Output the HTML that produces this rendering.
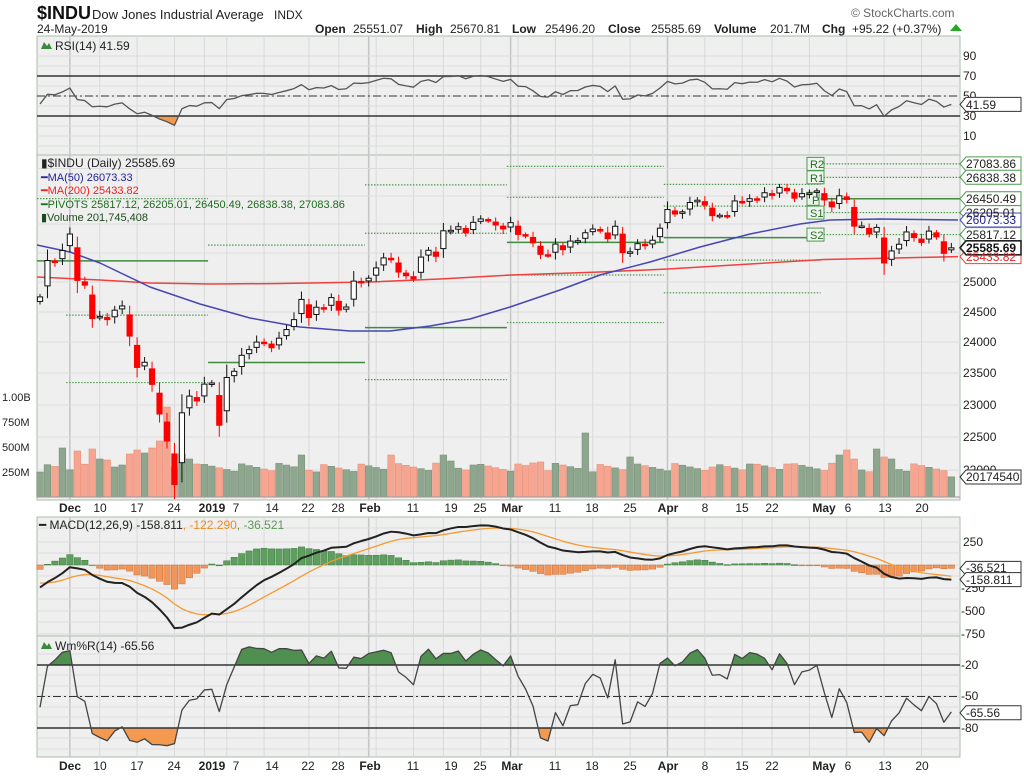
<!DOCTYPE html>
<html><head><meta charset="utf-8"><style>body{margin:0;background:#fff}svg{display:block}text{font-family:"Liberation Sans",sans-serif}</style></head>
<body>
<svg id="s" width="1024" height="776" xmlns="http://www.w3.org/2000/svg">
<defs>
<clipPath id="cRo"><rect x="37" y="116" width="923" height="39"/></clipPath>
<clipPath id="cRg"><rect x="37" y="36" width="923" height="40"/></clipPath>
<clipPath id="cWg"><rect x="37" y="637" width="923" height="28"/></clipPath>
<clipPath id="cWo"><rect x="37" y="728" width="923" height="29"/></clipPath>
</defs>
<rect x="37" y="36" width="923" height="119" fill="#efefef" stroke="#a8bca8"/>
<rect x="37" y="155" width="923" height="345" fill="#efefef" stroke="#a8bca8"/>
<rect x="37" y="517" width="923" height="119" fill="#efefef" stroke="#a8bca8"/>
<rect x="37" y="636" width="923" height="121" fill="#efefef" stroke="#a8bca8"/>
<g id="g"></g>
<text x="37" y="19" font-size="18" font-weight="bold" fill="#111">$INDU</text>
<text x="92" y="19" font-size="13" fill="#222">Dow Jones Industrial Average</text>
<text x="274" y="19" font-size="12" fill="#222">INDX</text>
<text x="37" y="33" font-size="12" fill="#222">24-May-2019</text>
<text x="851" y="17" font-size="12" fill="#666">© StockCharts.com</text>
<g font-size="12" fill="#222">
<text x="315" y="33" font-weight="bold">Open</text><text x="353" y="33">25551.07</text>
<text x="416" y="33" font-weight="bold">High</text><text x="450" y="33">25670.81</text>
<text x="512" y="33" font-weight="bold">Low</text><text x="545" y="33">25496.20</text>
<text x="608" y="33" font-weight="bold">Close</text><text x="651" y="33">25585.69</text>
<text x="714" y="33" font-weight="bold">Volume</text><text x="770" y="33">201.7M</text>
<text x="822" y="33" font-weight="bold">Chg</text><text x="852" y="33">+95.22 (+0.37%)</text>
</g>
<polygon points="950,31 956,24 962,31" fill="#2a2"/>
<polygon points="41,49 44,42 47,46 49,43 52,49" fill="#3a8a3a"/>
<text x="55" y="50" font-size="12" fill="#222">RSI(14) 41.59</text>
<text x="41" y="167" font-size="12" fill="#222">▮$INDU (Daily) 25585.69</text>
<text x="41" y="181" font-size="11" fill="#22229a">━MA(50) 26073.33</text>
<text x="41" y="194" font-size="11" fill="#e22">━MA(200) 25433.82</text>
<text x="41" y="208" font-size="11" fill="#1d6b1d">━PIVOTS 25817.12, 26205.01, 26450.49, 26838.38, 27083.86</text>
<text x="41" y="221" font-size="11" fill="#1d4a1d">▮Volume 201,745,408</text>
<text x="39" y="529" font-size="12" fill="#222">━ MACD(12,26,9) -158.811<tspan fill="#f08a20">, -122.290</tspan><tspan fill="#5a9a5a">, -36.521</tspan></text>
<polygon points="41,649 44,642 47,646 49,643 52,649" fill="#3a8a3a"/>
<text x="55" y="650" font-size="12" fill="#222">Wm%R(14) -65.56</text>
<g font-size="12" fill="#222">
<text x="963" y="60">90</text><text x="963" y="80">70</text><text x="963" y="100">50</text><text x="963" y="120">30</text><text x="963" y="140">10</text>
<text x="963" y="286">25000</text><text x="963" y="316">24500</text><text x="963" y="346">24000</text><text x="963" y="377">23500</text><text x="963" y="409">23000</text><text x="963" y="441">22500</text><text x="963" y="474">22000</text>
<text x="963" y="546">250</text><text x="961" y="592">-250</text><text x="961" y="615">-500</text><text x="961" y="638">-750</text>
<text x="961" y="669">-20</text><text x="961" y="700">-50</text><text x="961" y="732">-80</text>
</g>
<g font-size="11" fill="#222">
<text x="2" y="401">1.00B</text><text x="2" y="426">750M</text><text x="2" y="451">500M</text><text x="2" y="476">250M</text>
</g>
<g id="tg"></g>
<g font-size="12" fill="#222">
<text x="966" y="109">41.59</text>
<text x="966" y="168">27083.86</text>
<text x="966" y="182">26838.38</text>
<text x="966" y="203">26450.49</text>
<text x="966" y="217">26205.01</text>
<text x="966" y="224" fill="#22229a">26073.33</text>
<text x="966" y="239">25817.12</text>
<text x="966" y="261" fill="#e22">25433.82</text>
<text x="966" y="252" font-weight="bold" fill="#111">25585.69</text>
<text x="966" y="481">20174540</text>
<text x="966" y="572">-36.521</text>
<text x="966" y="584">-158.811</text>
<text x="966" y="717">-65.56</text>
</g>
<g font-size="11" fill="#2a6a2a">
<text x="810" y="168">R2</text><text x="810" y="182">R1</text><text x="812" y="204">P</text><text x="810" y="217">S1</text><text x="810" y="239">S2</text>
</g>
<g font-size="12" fill="#222" text-anchor="middle">
<text x="70" y="512" font-weight="bold">Dec</text><text x="100" y="512">10</text><text x="137" y="512">17</text><text x="174" y="512">24</text><text x="212" y="512" font-weight="bold">2019</text><text x="236" y="512">7</text><text x="272" y="512">14</text><text x="308" y="512">22</text><text x="338" y="512">28</text><text x="370" y="512" font-weight="bold">Feb</text><text x="413" y="512">11</text><text x="451" y="512">19</text><text x="480" y="512">25</text><text x="512" y="512" font-weight="bold">Mar</text><text x="555" y="512">11</text><text x="592" y="512">18</text><text x="630" y="512">25</text><text x="668" y="512" font-weight="bold">Apr</text><text x="705" y="512">8</text><text x="742" y="512">15</text><text x="772" y="512">22</text><text x="824" y="512" font-weight="bold">May</text><text x="848" y="512">6</text><text x="885" y="512">13</text><text x="922" y="512">20</text>
</g>
<g font-size="12" fill="#222" text-anchor="middle">
<text x="70" y="770" font-weight="bold">Dec</text><text x="100" y="770">10</text><text x="137" y="770">17</text><text x="174" y="770">24</text><text x="212" y="770" font-weight="bold">2019</text><text x="236" y="770">7</text><text x="272" y="770">14</text><text x="308" y="770">22</text><text x="338" y="770">28</text><text x="370" y="770" font-weight="bold">Feb</text><text x="413" y="770">11</text><text x="451" y="770">19</text><text x="480" y="770">25</text><text x="512" y="770" font-weight="bold">Mar</text><text x="555" y="770">11</text><text x="592" y="770">18</text><text x="630" y="770">25</text><text x="668" y="770" font-weight="bold">Apr</text><text x="705" y="770">8</text><text x="742" y="770">15</text><text x="772" y="770">22</text><text x="824" y="770" font-weight="bold">May</text><text x="848" y="770">6</text><text x="885" y="770">13</text><text x="922" y="770">20</text>
</g>
</svg>
<script>
(function(){
var C=[24748.73,25366.43,25338.84,25538.46,
25826.43,25027.07,24947.67,24388.95,24423.26,24370.24,24527.27,24597.38,24100.51,23592.98,23675.64,23323.66,22859.60,22445.37,21792.20,22878.45,23138.82,23062.40,23327.46,
23346.24,22686.22,23433.16,23531.35,23787.45,23879.12,24001.92,23995.95,23909.84,24065.59,24207.16,24370.10,24706.35,24404.48,24575.62,24553.24,24737.20,24528.22,24579.96,25014.86,24999.67,
25063.89,25239.37,25411.52,25390.30,25169.53,25106.33,25053.11,25425.76,25543.27,25439.39,25883.25,25891.32,25954.44,25850.63,26031.81,26091.95,26057.98,25985.16,25916.00,
26026.32,25819.65,25806.63,25673.46,25473.23,25450.24,25650.88,25554.66,25702.89,25709.94,25848.87,25914.10,25887.38,25745.67,25962.51,25502.32,25516.83,25657.73,25625.59,25717.46,25928.68,
26258.42,26179.13,26218.13,26384.63,26424.99,26341.02,26150.58,26157.16,26143.05,26412.30,26384.77,26452.66,26449.54,26559.54,26511.05,26656.39,26597.05,26462.08,26543.33,26554.39,26592.91,
26430.14,26307.79,26504.95,26438.48,25965.09,25967.33,25828.36,25942.37,25324.99,25532.05,25648.02,25862.68,25764.00,25679.90,25877.33,25776.61,25490.47,25585.69];
var N=C.length,X=function(i){return 40+i*7.47;},PY=function(p){return 282-1475*Math.log(p/25000);};
var S='';
function ln(x1,y1,x2,y2,c,w,d){S+='<line x1="'+x1+'" y1="'+y1+'" x2="'+x2+'" y2="'+y2+'" stroke="'+c+'" stroke-width="'+(w||1)+'"'+(d?' stroke-dasharray="'+d+'"':'')+'/>';}
var wk=[4,8,13,18,22,25,30,36,40,44,45,50,54,59,63,64,69,74,79,84,89,94,98,103,108,113,118];
var mo=[4,23,44,63,84,105];
[[36,155],[155,500],[517,636],[636,757]].forEach(function(p){
 wk.forEach(function(i){var m=mo.indexOf(i)>=0;ln(X(i),p[0],X(i),p[1],m?'#c4c4c4':'#d9d9d9',m?1.5:1);});
});
[56,66,76,86,96,106,116,126,136,146].forEach(function(y){ln(37,y,960,y,'#dcdcdc');});
[168.5,196,224,253,282,312,342,373,405,437,470].forEach(function(y){ln(37,y,960,y,'#dcdcdc');});
[542,565,588,611,634,528,553,576,599,622].forEach(function(y){ln(37,y,960,y,'#dcdcdc');});
[654,665,675,686,696,707,717,728,738,749].forEach(function(y){ln(37,y,960,y,'#dcdcdc');});
var V=[];for(var i=0;i<N;i++)V.push(250+(i*73%90));
var ov={3:490,5:460,7:480,12:430,13:470,14:440,15:490,16:560,17:900,18:300,19:430,20:380,21:330,8:380,9:370,10:300,11:320,35:420,47:420,58:320,66:340,67:350,73:640,79:400,107:420,108:470,109:380,112:480,113:400,114:380,122:202,80:330,64:330,54:420,55:360,90:300,95:330,100:330};
for(var k in ov)V[k]=ov[k];
for(i=0;i<N;i++){var up=i==0||C[i]>=C[i-1];var h=V[i]*0.1;S+='<rect x="'+(X(i)-3.3)+'" y="'+(497-h)+'" width="6.6" height="'+h+'" fill="'+(up?'#8ea68e':'#f6a590')+'" stroke="'+(up?'#7a927a':'#e88f7a')+'" stroke-width="0.6"/>';}
ln(37,497,960,497,'#999');
var piv=[[37,X(3.5),[26454,25361,24445,27370,23352],[25361]],
[X(3.5),X(22.5),[25361,26454,24445,23352],[25361]],
[X(22.5),X(43.5),[23673,25633],[23673]],
[X(43.5),X(62.5),[24239,25840,26701,23399],[24239]],
[X(62.5),X(83.5),[25680,26477,27038,25119,24322],[25680]],
[X(83.5),X(104.5),[25764,26320,26711,25373,24817],[25764]],
[X(104.5),960,[26450.49,26838.38,27083.86,26205.01,25817.12],[26450.49]]];
piv.forEach(function(p,j){p[2].forEach(function(v){var y=PY(v);if(y<156||y>498)return;var sol=p[3].indexOf(v)>=0;
 if(j==0&&!sol&&v!=26454)return;
 ln(p[0],y,p[1],y,sol?'#3f8a3f':'#4e9a4e',sol?1.5:1.2,sol?null:'1.5,1.5');});});
[[163.9,'R2'],[177.3,'R1'],[198.8,'P'],[212.6,'S1'],[234.6,'S2']].forEach(function(t){var w=t[1]=='P'?12:17;S+='<rect x="807" y="'+(t[0]-6.5)+'" width="'+w+'" height="13" fill="#eef5ee" stroke="#4e9a4e"/>';});
function poly(pts,c,w){S+='<polyline points="'+pts.map(function(p){return p.join(',');}).join(' ')+'" fill="none" stroke="'+c+'" stroke-width="'+(w||1)+'" stroke-linejoin="round"/>';}
poly([[37,277],[100,280],[150,283],[212,284],[280,283.5],[370,282],[440,279],[512,275],[600,272],[668,269],[750,264],[824,259.5],[958,256.6]],'#f04040',1.5);
poly([[37,245],[70,252],[100,263],[150,287],[200,304],[250,318],[300,327],[350,331],[390,331],[430,326],[470,319],[510,307],[560,290],[600,275],[650,262],[700,247],[750,234],[800,224],[830,220],[880,219],[958,220]],'#4646b4',1.5);
var O=[],H=[],L=[];
for(i=0;i<N;i++){var pr=i?C[i-1]:24640;var o=pr+0.3*(C[i]-pr);var d=Math.abs(C[i]-pr);
 var hh=Math.max(o,C[i])+0.2*d+30+(i*37%60),ll=Math.min(o,C[i])-0.2*d-30-(i*53%60);
 if(i==N-1){o=25551.07;hh=25670.81;ll=25496.20;}
 O.push(o);H.push(hh);L.push(ll);
 var up=i==0||C[i]>=pr,col=up?'#111':'#f00',x=X(i);
 ln(x,PY(hh),x,PY(ll),col,1);
 var t=PY(Math.max(o,C[i])),b=PY(Math.min(o,C[i]));if(b-t<1.5){b=t+1.5;}
 S+='<rect x="'+(x-2.6)+'" y="'+t+'" width="5.2" height="'+(b-t)+'" fill="'+(C[i]>=o?'#fff':col)+'" stroke="'+col+'" stroke-width="1"/>';
}
var ag=100,al=138,R=[42];
for(i=1;i<N;i++){var ch=C[i]-C[i-1];ag=(ag*13+Math.max(ch,0))/14;al=(al*13+Math.max(-ch,0))/14;R.push(100-100/(1+ag/al));}
var rp=R.map(function(r,i){return [X(i),146-r];});
S+='<polygon clip-path="url(#cRo)" points="'+X(0)+',116 '+rp.map(function(p){return p.join(',');}).join(' ')+' '+X(N-1)+',116" fill="#f39a50"/>';
S+='<polygon clip-path="url(#cRg)" points="'+X(0)+',76 '+rp.map(function(p){return p.join(',');}).join(' ')+' '+X(N-1)+',76" fill="#3a8a3a"/>';
ln(37,76,960,76,'#333',1.5);ln(37,116,960,116,'#333',1.5);ln(37,96,960,96,'#333',1,'8,3,2,3');
poly(rp,'#555',1.3);
var e12=24900,e26=25150,sg=-185,M=[],G=[];
for(i=0;i<N;i++){e12=e12+(C[i]-e12)*2/13;e26=e26+(C[i]-e26)*2/27;var m=e12-e26;sg=sg+(m-sg)*0.2;M.push(m);G.push(sg);}
var MY=function(v){return 565-v*0.092;};
for(i=0;i<N;i++){var hv=M[i]-G[i],y=MY(hv);var pos=hv>=0;
 S+='<rect x="'+(X(i)-3.2)+'" y="'+Math.min(y,565)+'" width="6.4" height="'+Math.max(Math.abs(y-565),0.8)+'" fill="'+(pos?'#5e9e5e':'#f0965a')+'" stroke="'+(pos?'#3f7a3f':'#c8703a')+'" stroke-width="0.5"/>';}
poly(G.map(function(v,i){return [X(i),MY(v)];}),'#f59a30',1.3);
poly(M.map(function(v,i){return [X(i),MY(v)];}),'#222',2);
var PH=[25700,25500,25360,25450,25440,25130,24800,24700,24580,24720,24900,24800],
    PL=[25300,25140,24990,25100,25180,24800,24122,24350,24270,24300,24500,24400];
var HH=PH.concat(H),LL=PL.concat(L),off=PH.length;
var W=[];for(i=0;i<N;i++){var a=Math.max(0,i+off-13),mh=-1e9,ml=1e9;for(var j=a;j<=i+off;j++){mh=Math.max(mh,HH[j]);ml=Math.min(ml,LL[j]);}W.push(-100*(mh-C[i])/(mh-ml));}
var wp=W.map(function(w,i){return [X(i),644-w*1.05];});
var ws=wp.map(function(p){return p.join(',');}).join(' ');
S+='<polygon clip-path="url(#cWg)" points="'+X(0)+',665 '+ws+' '+X(N-1)+',665" fill="#4f8f4f"/>';
S+='<polygon clip-path="url(#cWo)" points="'+X(0)+',728 '+ws+' '+X(N-1)+',728" fill="#f39a50"/>';
ln(37,665,960,665,'#333',1.5);ln(37,728,960,728,'#333',1.5);ln(37,696.5,960,696.5,'#333',1,'8,3,2,3');
poly(wp,'#444',1.3);
document.getElementById('g').innerHTML=S;
var T='';
function tag(y,c,w){T+='<polygon points="960,'+y+' 966,'+(y-7)+' 1021,'+(y-7)+' 1021,'+(y+7)+' 966,'+(y+7)+'" fill="#fff" stroke="'+c+'" stroke-width="'+(w||1)+'"/>';}
tag(104.4,'#333');tag(163.9,'#4e9a4e');tag(177.3,'#4e9a4e');tag(198.8,'#4e9a4e');tag(212.6,'#4e9a4e');tag(220,'#4646b4');tag(234.6,'#4e9a4e');tag(256.6,'#f04040');tag(247.8,'#222',1.6);tag(477,'#333');tag(568.4,'#333');tag(579.6,'#333');tag(712.8,'#333');
document.getElementById('tg').innerHTML=T;
})();
</script>
</body></html>
